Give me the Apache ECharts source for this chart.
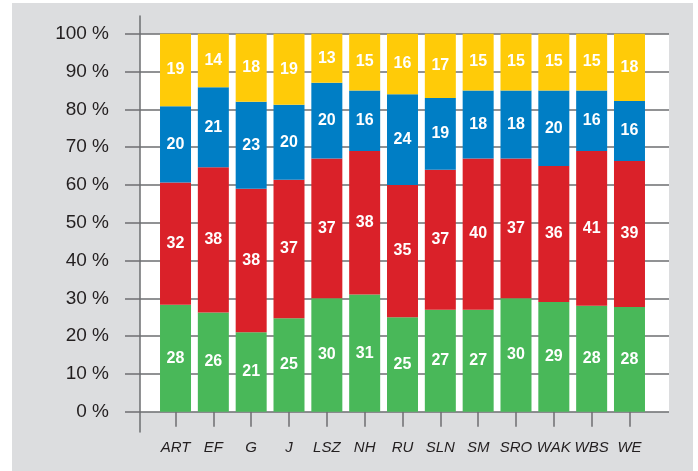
<!DOCTYPE html>
<html>
<head>
<meta charset="utf-8">
<script src="https://cdn.jsdelivr.net/npm/echarts@6/dist/echarts.min.js"></script>
<style>
  html, body { margin: 0; padding: 0; background: #ffffff; width: 698px; height: 471px; overflow: hidden; }
  #panel { position: absolute; left: 12px; top: 3px; width: 681px; height: 468px; background: #dcdddf; }
  #chart { width: 681px; height: 468px; }
</style>
</head>
<body>
<div id="panel"><div id="chart"></div></div>
<script>
const categories = ['ART', 'EF', 'G', 'J', 'LSZ', 'NH', 'RU', 'SLN', 'SM', 'SRO', 'WAK', 'WBS', 'WE'];
const green  = [28, 26, 21, 25, 30, 31, 25, 27, 27, 30, 29, 28, 28];
const red    = [32, 38, 38, 37, 37, 38, 35, 37, 40, 37, 36, 41, 39];
const blue   = [20, 21, 23, 20, 20, 16, 24, 19, 18, 18, 20, 16, 16];
const yellow = [19, 14, 18, 19, 13, 15, 16, 17, 15, 15, 15, 15, 18];
const yMin = 0, yMax = 100, yStep = 10;

const totals = categories.map((_, i) => green[i] + red[i] + blue[i] + yellow[i]);
const share = arr => arr.map((v, i) => v / totals[i] * 100);

const gridColor = '#6d6e71';
const textColor = '#231f20';

const mkSeries = (name, arr, color) => ({
  name: name,
  type: 'bar',
  stack: 'all',
  xAxisIndex: 2,
  yAxisIndex: 2,
  barWidth: 31,
  data: share(arr),
  itemStyle: { color: color },
  label: {
    show: true,
    position: 'inside',
    color: '#ffffff',
    fontFamily: 'Liberation Sans, Arial, sans-serif',
    fontWeight: 'bold',
    fontSize: 16,
    formatter: p => String(arr[p.dataIndex])
  }
});

const chart = echarts.init(document.getElementById('chart'), null, { renderer: 'canvas' });
chart.setOption({
  animation: false,
  grid: [
    { left: 128, top: 30.7, width: 529, height: 378, show: true, backgroundColor: '#ffffff', borderWidth: 0 },
    { left: 128, top: 13, width: 529, height: 416, show: false },
    { left: 144.6, top: 30.7, width: 491.8, height: 378, show: false }
  ],
  xAxis: [
    { gridIndex: 0, type: 'value', min: 0, max: 1, show: false },
    { gridIndex: 1, type: 'value', min: 0, max: 1, show: false },
    {
      gridIndex: 2,
      type: 'category',
      data: categories,
      axisLine: { show: false },
      axisTick: { show: true, alignWithLabel: true, length: 15, lineStyle: { color: gridColor, width: 1.5 } },
      axisLabel: {
        margin: 29,
        color: textColor,
        fontFamily: 'Liberation Sans, Arial, sans-serif',
        fontStyle: 'italic',
        fontSize: 15,
        interval: 0
      }
    }
  ],
  yAxis: [
    {
      gridIndex: 0,
      type: 'value',
      min: yMin,
      max: yMax,
      interval: yStep,
      axisLine: { show: false },
      axisTick: { show: true, length: 15, lineStyle: { color: gridColor, width: 1.5 } },
      splitLine: { show: true, lineStyle: { color: gridColor, width: 1.5 } },
      axisLabel: {
        margin: 31,
        formatter: '{value} %',
        color: textColor,
        fontFamily: 'Liberation Sans, Arial, sans-serif',
        fontSize: 19
      }
    },
    {
      gridIndex: 1,
      type: 'value',
      min: 0,
      max: 1,
      axisLine: { show: true, lineStyle: { color: gridColor, width: 1.5 } },
      axisTick: { show: false },
      splitLine: { show: false },
      axisLabel: { show: false }
    },
    {
      gridIndex: 2,
      type: 'value',
      min: yMin,
      max: yMax,
      show: false
    }
  ],
  series: [
    mkSeries('green', green, '#49b859'),
    mkSeries('red', red, '#da2129'),
    mkSeries('blue', blue, '#007ec5'),
    mkSeries('yellow', yellow, '#ffcb08')
  ]
});
</script>
</body>
</html>
